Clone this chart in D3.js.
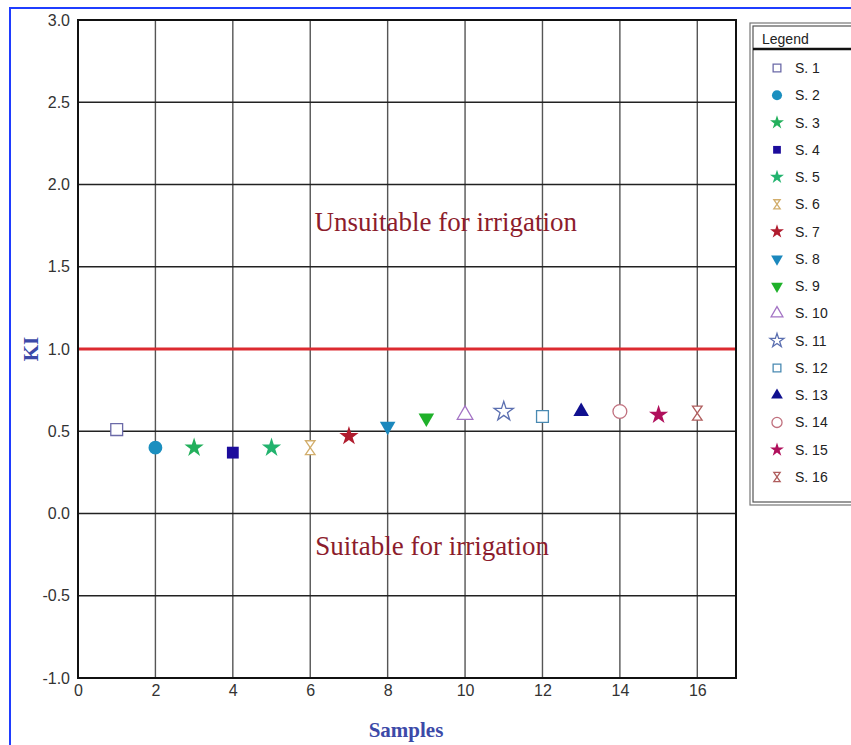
<!DOCTYPE html>
<html>
<head>
<meta charset="utf-8">
<script src="https://cdn.jsdelivr.net/npm/d3@7"></script>
<style>
  body { margin: 0; background: #fff; }
  svg { display: block; }
</style>
</head>
<body>
<div id="chart"></div>
<script>
// ---------- data ----------
var samples = [1, 2, 3, 4, 5, 6, 7, 8, 9, 10, 11, 12, 13, 14, 15, 16];
var kiValues = [0.51, 0.40, 0.40, 0.37, 0.40, 0.40, 0.47, 0.53, 0.58, 0.60, 0.62, 0.59, 0.62, 0.62, 0.60, 0.61];
var seriesNames = ["S. 1", "S. 2", "S. 3", "S. 4", "S. 5", "S. 6", "S. 7", "S. 8",
                   "S. 9", "S. 10", "S. 11", "S. 12", "S. 13", "S. 14", "S. 15", "S. 16"];
var xTicks = [0, 2, 4, 6, 8, 10, 12, 14, 16];
var yTicks = [-1.0, -0.5, 0.0, 0.5, 1.0, 1.5, 2.0, 2.5, 3.0];
var kiLimit = 1.0;

// marker look for each sample: shape, colour, filled
var markers = [
  { shape: "square", color: "#6b6aa8", fill: false },
  { shape: "circle", color: "#1b8fbf", fill: true },
  { shape: "star", color: "#23b05c", fill: true },
  { shape: "square", color: "#1c0c9c", fill: true },
  { shape: "star", color: "#22b36e", fill: true },
  { shape: "hourglass", color: "#d2ae6c", fill: false },
  { shape: "star", color: "#b01c2e", fill: true },
  { shape: "down", color: "#1b88bd", fill: true },
  { shape: "down", color: "#1fb12a", fill: true },
  { shape: "up", color: "#a373c4", fill: false },
  { shape: "star", color: "#5b6fb0", fill: false },
  { shape: "square", color: "#4a8ab2", fill: false },
  { shape: "up", color: "#10108f", fill: true },
  { shape: "circle", color: "#c0707e", fill: false },
  { shape: "star", color: "#b0105c", fill: true },
  { shape: "hourglass", color: "#b05e5e", fill: false }
];

// ---------- layout ----------
var svgWidth = 851, svgHeight = 745;
var margin = { top: 20, left: 78 };
var width = 658, height = 658;
var sans = "Arial, 'Liberation Sans', sans-serif";
var serif = "'Times New Roman', 'Liberation Serif', serif";

var svg = d3.select("#chart").append("svg")
  .attr("width", svgWidth)
  .attr("height", svgHeight)
  .style("font-family", sans);

// blue frame
svg.append("rect")
  .attr("x", 10).attr("y", 8)
  .attr("width", svgWidth + 20).attr("height", svgHeight + 20)
  .attr("fill", "none").attr("stroke", "#1f3dff").attr("stroke-width", 2);

var g = svg.append("g").attr("transform", `translate(${margin.left},${margin.top})`);

var x = d3.scaleLinear().domain([0, 17]).range([0, width]);
var y = d3.scaleLinear().domain([-1, 3]).range([height, 0]);

// grid
g.append("g").selectAll("line").data(xTicks.slice(1))
  .enter().append("line")
  .attr("x1", d => x(d)).attr("x2", d => x(d))
  .attr("y1", 0).attr("y2", height)
  .attr("stroke", "#555").attr("stroke-width", 1.4);

g.append("g").selectAll("line").data(yTicks.slice(1, -1))
  .enter().append("line")
  .attr("x1", 0).attr("x2", width)
  .attr("y1", d => y(d)).attr("y2", d => y(d))
  .attr("stroke", "#222").attr("stroke-width", 1.3);

// limit line
g.append("line")
  .attr("x1", 0).attr("x2", width)
  .attr("y1", y(kiLimit)).attr("y2", y(kiLimit))
  .attr("stroke", "#dc2a30").attr("stroke-width", 3);

// frame
g.append("rect")
  .attr("width", width).attr("height", height)
  .attr("fill", "none").attr("stroke", "#111").attr("stroke-width", 2);

// axes
var yAxis = g.append("g")
  .call(d3.axisLeft(y).tickValues(yTicks).tickFormat(d => d.toFixed(1)).tickSize(0).tickPadding(8));
yAxis.select(".domain").remove();
yAxis.selectAll("text").attr("font-size", 16).attr("fill", "#333").attr("font-family", sans);

var xAxis = g.append("g")
  .attr("transform", `translate(0,${height})`)
  .call(d3.axisBottom(x).tickValues(xTicks).tickSize(0).tickPadding(7));
xAxis.select(".domain").remove();
xAxis.selectAll("text").attr("font-size", 16).attr("fill", "#333").attr("font-family", sans);

// axis titles
svg.append("text")
  .attr("transform", `translate(38,${margin.top + y(1.0)}) rotate(-90)`)
  .attr("text-anchor", "middle")
  .attr("font-family", serif)
  .attr("font-weight", "bold").attr("font-size", 21)
  .attr("fill", "#3c4aa8")
  .text("KI");

svg.append("text")
  .attr("x", margin.left + x(8.5) - 1).attr("y", 737)
  .attr("text-anchor", "middle")
  .attr("font-family", serif)
  .attr("font-weight", "bold").attr("font-size", 21)
  .attr("fill", "#3c4aa8")
  .text("Samples");

// zone labels
g.append("text")
  .attr("x", x(9.5)).attr("y", y(1.72))
  .attr("text-anchor", "middle")
  .attr("font-family", serif)
  .attr("font-size", 27).attr("fill", "#8c1c2c")
  .text("Unsuitable for irrigation");

g.append("text")
  .attr("x", x(9.15)).attr("y", y(-0.25))
  .attr("text-anchor", "middle")
  .attr("font-family", serif)
  .attr("font-size", 27).attr("fill", "#8c1c2c")
  .text("Suitable for irrigation");

// marker builder
function markerPath(shape, s) {
  if (shape === "hourglass") {
    var a = Math.sqrt(s) * 0.38, b = Math.sqrt(s) * 0.55;
    return `M${-a},${-b}H${a}L${-a},${b}H${a}Z`;
  }
  var type = { square: d3.symbolSquare, circle: d3.symbolCircle, star: d3.symbolStar,
               up: d3.symbolTriangle, down: d3.symbolTriangle }[shape];
  return d3.symbol().type(type).size(s)();
}
function drawMarker(sel, m, s) {
  sel.append("path")
    .attr("d", markerPath(m.shape, s))
    .attr("transform", m.shape === "down" ? "rotate(180)" : null)
    .attr("fill", m.fill ? m.color : "#fff")
    .attr("stroke", m.color)
    .attr("stroke-width", m.fill ? 0 : 1.3);
}
var plotSize = { square: 140, circle: 150, star: 115, up: 105, down: 105, hourglass: 160 };
var legendSize = { square: 60, circle: 80, star: 60, up: 60, down: 60, hourglass: 70 };

var points = g.append("g").selectAll("g").data(samples)
  .enter().append("g")
  .attr("transform", (d, i) => `translate(${x(d)},${y(kiValues[i])})`);
points.each(function(d, i) {
  var m = markers[i];
  drawMarker(d3.select(this), m, plotSize[m.shape]);
});

// legend
var lg = svg.append("g");
lg.append("rect").attr("x", 750).attr("y", 23).attr("width", 120).attr("height", 482)
  .attr("fill", "#fff").attr("stroke", "#777").attr("stroke-width", 1.2);
lg.append("rect").attr("x", 753).attr("y", 26).attr("width", 120).attr("height", 476)
  .attr("fill", "none").attr("stroke", "#555").attr("stroke-width", 1.2);
lg.append("line").attr("x1", 753).attr("x2", 851).attr("y1", 49).attr("y2", 49)
  .attr("stroke", "#111").attr("stroke-width", 2.5);
lg.append("text").attr("x", 762).attr("y", 44).attr("font-size", 14).attr("fill", "#222")
  .text("Legend");

var rowY = d3.scalePoint().domain(seriesNames).range([68, 477]);
var rows = lg.selectAll("g.row").data(seriesNames)
  .enter().append("g").attr("class", "row")
  .attr("transform", d => `translate(777,${rowY(d)})`);
rows.each(function(d, i) {
  var m = markers[i];
  drawMarker(d3.select(this), m, legendSize[m.shape]);
});
rows.append("text").attr("x", 18).attr("y", 5)
  .attr("font-size", 14).attr("fill", "#222")
  .text(d => d);
</script>
</body>
</html>
